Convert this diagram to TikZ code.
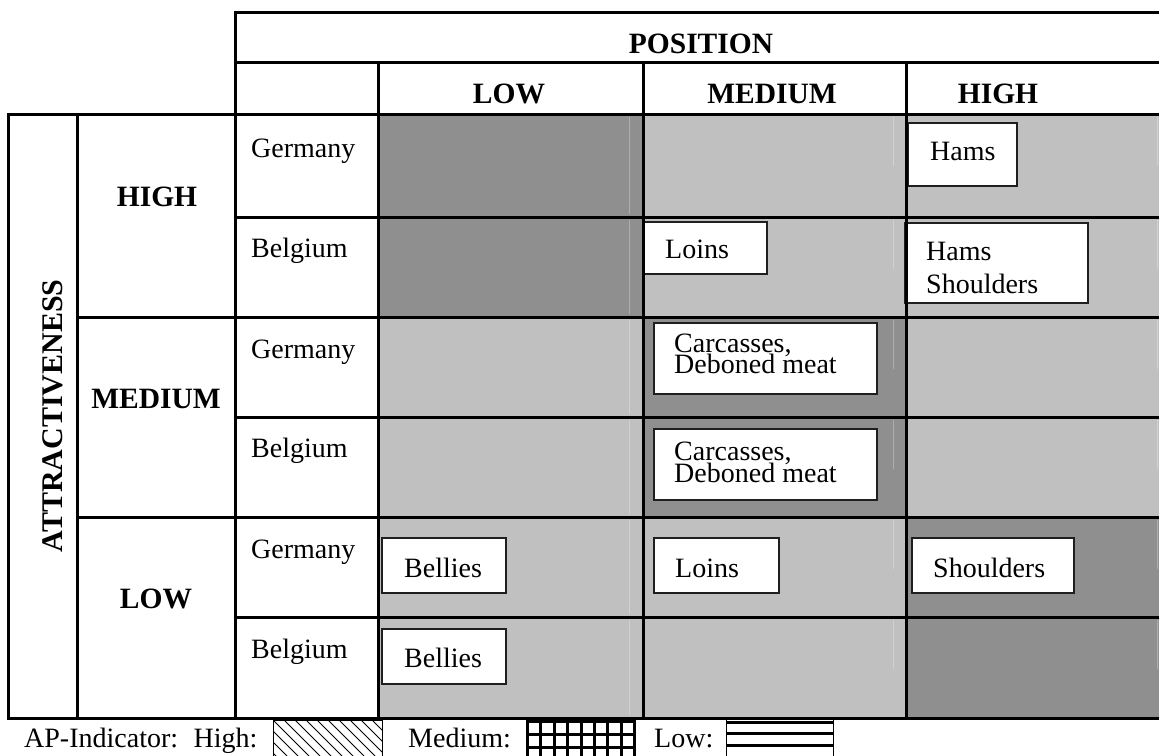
\documentclass[tikz,border=0pt]{standalone}
\usepackage{fontspec}
\setmainfont{Liberation Serif}
\definecolor{darkcell}{gray}{0.56}
\definecolor{lightcell}{gray}{0.753}
\definecolor{boxline}{gray}{0.12}
\begin{document}
\begin{tikzpicture}[x=1pt,y=-1pt,
  rule/.style={line width=3pt,line cap=rect},
  seam/.style={white,opacity=0.28,line width=1pt},
  itembox/.style={draw=boxline,line width=1.5pt,fill=white,inner sep=0pt,anchor=north west},
  hdr/.style={font=\fontsize{29.5}{32}\selectfont\bfseries,anchor=base,inner sep=0pt},
  lbl/.style={font=\fontsize{28}{30}\selectfont,anchor=base west,inner sep=0pt},
  sample/.style={line width=0.8pt}]
\useasboundingbox (0,0) rectangle (1159,755);

% shaded cells of the matrix
\foreach \t/\b/\ca/\cb/\cc in {
  114/217/darkcell/lightcell/lightcell,
  217/317/darkcell/lightcell/lightcell,
  317/417/lightcell/darkcell/lightcell,
  417/517/lightcell/darkcell/lightcell,
  517/617/lightcell/lightcell/darkcell,
  617/718/lightcell/lightcell/darkcell}{
  \fill[\ca] (378,\t) rectangle (643,\b);
  \fill[\cb] (643,\t) rectangle (906,\b);
  \fill[\cc] (906,\t) rectangle (1159,\b);
  \draw[seam] (629,\t+3) -- (629,\b-3);
  \draw[seam] (893,\t+3) -- (893,\t+52);
  \draw[seam] (1157,\t+3) -- (1157,\t+52);
}

% product boxes
\node[itembox,minimum width=109pt,minimum height=63pt] (hamsA) at (907,122) {};
\node[itembox,minimum width=183pt,minimum height=80pt] (hamsB) at (904,222) {};
\node[itembox,minimum width=123pt,minimum height=52pt] (loinsA) at (643,221) {};
\node[itembox,minimum width=223pt,minimum height=71pt] (carcA) at (653,322) {};
\node[itembox,minimum width=223pt,minimum height=71pt] (carcB) at (653,428) {};
\node[itembox,minimum width=124pt,minimum height=55pt] (bellA) at (381,537) {};
\node[itembox,minimum width=125pt,minimum height=55pt] (loinsB) at (653,537) {};
\node[itembox,minimum width=162pt,minimum height=55pt] (shoul) at (911,537) {};
\node[itembox,minimum width=124pt,minimum height=55pt] (bellB) at (381,628) {};

% table rules
\draw[rule] (235,12) -- (1159,12);
\draw[rule] (235,62) -- (1159,62);
\draw[rule] (8,114) -- (1159,114);
\foreach \y in {217,417,617}{\draw[rule] (235,\y) -- (1159,\y);}
\foreach \y in {317,517}{\draw[rule] (77,\y) -- (1159,\y);}
\draw[rule] (8,718) -- (1159,718);
\draw[rule] (8,114) -- (8,718);
\draw[rule] (77,114) -- (77,718);
\draw[rule] (235,12) -- (235,718);
\foreach \x in {378,643,906}{\draw[rule] (\x,62) -- (\x,718);}

% column headings
\node[hdr] (pos) at (701,53) {POSITION};
\node[hdr] (plow) at (509,103) {LOW};
\node[hdr] (pmed) at (772,103) {MEDIUM};
\node[hdr] (phigh) at (998,103) {HIGH};

% row headings
\node[hdr,rotate=90] (attr) at (62,416) {\fontsize{30}{32}\selectfont ATTRACTIVENESS};
\node[hdr] (ahigh) at (157,206) {HIGH};
\node[hdr] (amed) at (156,408) {MEDIUM};
\node[hdr] (alow) at (156,608) {LOW};

% countries
\node[lbl] (de1) at (251,157) {Germany};
\node[lbl] (be1) at (251,257) {Belgium};
\node[lbl] (de2) at (251,358) {Germany};
\node[lbl] (be2) at (251,457) {Belgium};
\node[lbl] (de3) at (251,558) {Germany};
\node[lbl] (be3) at (251,658) {Belgium};

% product names
\node[lbl] (tHamsA) at (930,160) {Hams};
\node[lbl] (tHamsB) at (926,260) {Hams};
\node[lbl] (tShoulB) at (926,293) {Shoulders};
\node[lbl] (tLoinsA) at (665,258) {Loins};
\node[lbl] (tCarcA1) at (674,352) {Carcasses,};
\node[lbl] (tCarcA2) at (674,373) {Deboned meat};
\node[lbl] (tCarcB1) at (674,460) {Carcasses,};
\node[lbl] (tCarcB2) at (674,482) {Deboned meat};
\node[lbl] (tBellA) at (404,577) {Bellies};
\node[lbl] (tLoinsB) at (675,577) {Loins};
\node[lbl] (tShoul) at (933,577) {Shoulders};
\node[lbl] (tBellB) at (404,667) {Bellies};

% legend
\node[lbl] (apind) at (24,747) {AP-Indicator:\hspace{0.55em}High:};
\node[lbl] (lmed) at (408,747) {Medium:};
\node[lbl] (llow) at (654,747) {Low:};

% high sample: diagonal hatching
\begin{scope}
  \clip (273,720) rectangle (382,756);
  \foreach \x in {240,251,...,390}{\draw[sample] (\x,720) -- (\x+36,756);}
\end{scope}
\draw[line width=0.8pt] (273,720) rectangle (382,758);

% medium sample: heavy grid
\foreach \y in {721.5,734.5,747.5}{\draw[line width=3pt] (526,\y) -- (634,\y);}
\foreach \k in {0,...,8}{\draw[line width=3pt] (527.5+13.4*\k,720) -- (527.5+13.4*\k,758);}

% low sample: heavy horizontal bars
\foreach \y in {722.5,733.5,745}{\draw[line width=3pt] (726,\y) -- (833,\y);}
\draw[line width=0.8pt] (726,720) -- (726,758);
\draw[line width=0.8pt] (833,720) -- (833,758);
\end{tikzpicture}
\end{document}
